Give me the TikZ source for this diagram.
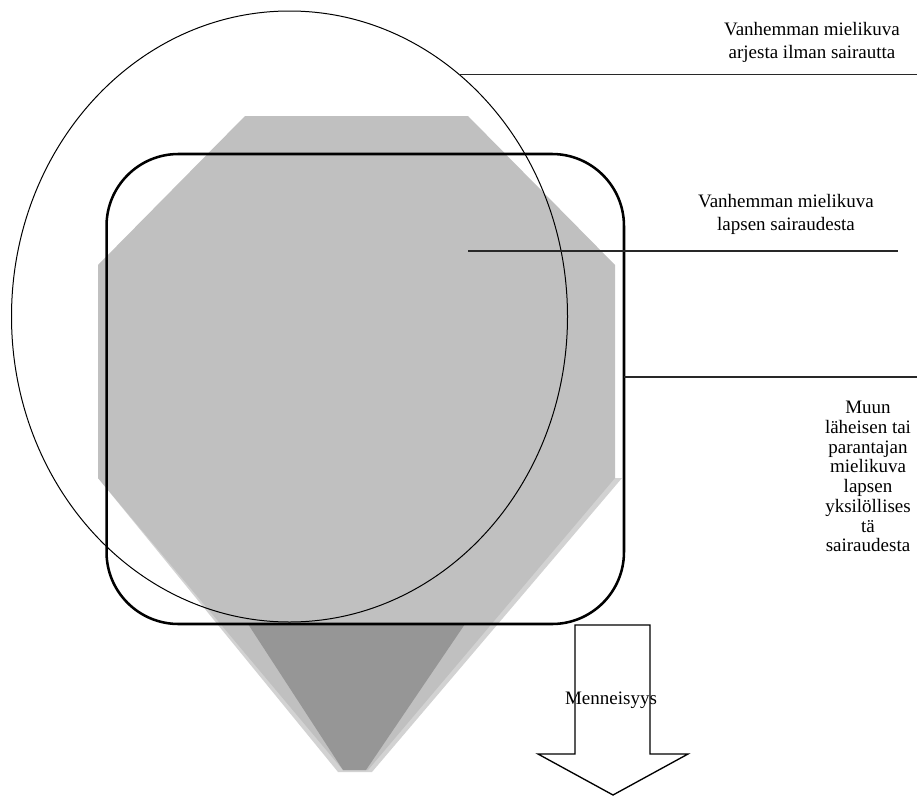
\documentclass[tikz,border=0pt]{standalone}
\usepackage{fontspec}
\setmainfont{Liberation Serif}
\usetikzlibrary{shapes.geometric}
\definecolor{shapegray}{RGB}{192,192,192}
\definecolor{palegray}{RGB}{210,210,210}
\definecolor{darkgray}{RGB}{150,150,150}
\definecolor{leadergray}{RGB}{40,40,40}
\tikzset{
  lbl/.style={align=center, inner sep=0pt, anchor=north, font=\fontsize{14.25}{17.6}\selectfont},
  lbltight/.style={align=center, inner sep=0pt, anchor=north, font=\fontsize{14.25}{14.8}\selectfont},
  leader/.style={draw=leadergray, line width=1.1pt},
  thinoutline/.style={draw=black, line width=0.75pt},
}
\begin{document}
\begin{tikzpicture}[x=0.75pt,y=-0.75pt]
\useasboundingbox (0,0) rectangle (917,796);
% gray shapes
\fill[palegray] (98,478) -- (338,772) -- (372,772) -- (622,478) -- cycle;
\fill[shapegray] (245,116) -- (468,116) -- (615,265) -- (615,478) -- (368,770) -- (343,770) -- (98,478) -- (98,265) -- cycle;
\fill[darkgray] (248,624) -- (465,624) -- (366,770) -- (343,770) -- cycle;
% ellipse
\node[ellipse, thinoutline, minimum width=417pt, minimum height=458.25pt, inner sep=0pt, outer sep=0pt] (E) at (289.5,316.5) {};
% rounded rectangle
\node[draw, rounded corners=54pt, line width=1.9pt, minimum width=388.1pt, minimum height=352.5pt, inner sep=0pt, outer sep=0pt] (R) at (365.25,389) {};
% leader lines
\coordinate (L1) at (917,75);
\coordinate (L2s) at (468,251);
\coordinate (L2e) at (898,251);
\coordinate (L3) at (917,377);
\draw[leader] (E.55.1) -- (E.55.1 -| L1);
\draw[leader] (L2s) -- (L2e);
\draw[leader] (R.east |- L3) -- (L3);
% labels
\node[lbl] (T1) at (812,22) {Vanhemman mielikuva\\arjesta ilman sairautta};
\node[lbl] (T2) at (786,194) {Vanhemman mielikuva\\lapsen sairaudesta};
\node[lbltight] (T3) at (868,401) {Muun\\läheisen tai\\parantajan\\mielikuva\\lapsen\\yksilöllises\\tä\\sairaudesta};
% arrow
\draw[line width=1pt, line join=miter] (575,625) -- (650,625) -- (650,754) -- (688,754) -- (613,795) -- (538,754) -- (575,754) -- cycle;
\node[inner sep=0pt, font=\fontsize{14.25}{17}\selectfont] (M) at (611,700) {Menneisyys};
\end{tikzpicture}
\end{document}
